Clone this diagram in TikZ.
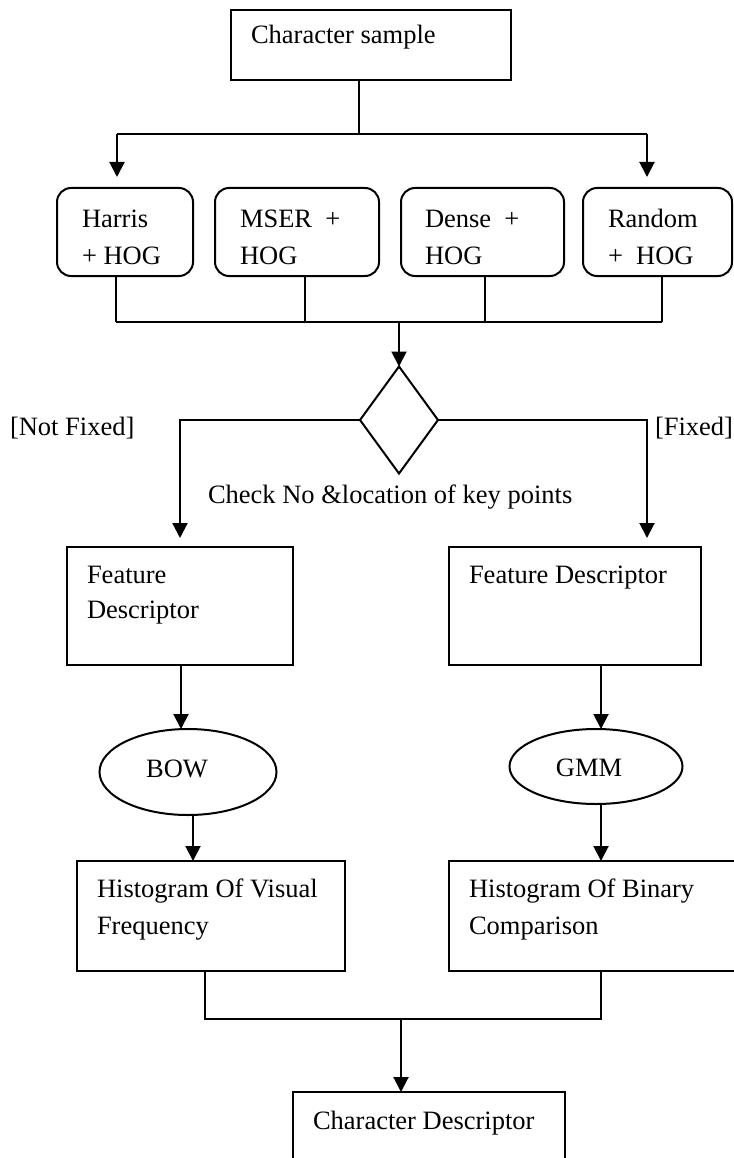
\documentclass[tikz,border=0pt]{standalone}
\usepackage{fontspec}
\setmainfont{Liberation Serif}
\usetikzlibrary{arrows.meta,shapes.geometric}
\begin{document}
\begin{tikzpicture}[x=1pt,y=-1pt,
  every node/.style={inner sep=0pt, outer sep=0pt},
  ln/.style={line width=2pt},
  arr/.style={ln, -{Triangle[width=15pt,length=15pt]}},
  sqbox/.style={draw, ln, rectangle, anchor=north west},
  rbox/.style={draw, ln, rectangle, rounded corners=14pt, anchor=north west},
  lbl/.style={anchor=base west, font=\fontsize{26.5}{30}\selectfont},
  clbl/.style={anchor=base, font=\fontsize{26.5}{30}\selectfont},
]
\useasboundingbox (0,0) rectangle (733,1158);

% top box
\node[sqbox, minimum width=280.5pt, minimum height=70pt] (cs) at (230.5,10) {};
\node[lbl] (cst) at (251,44) {Character sample};

% detector boxes
\node[rbox, minimum width=136pt, minimum height=88pt] (harris) at (57,188) {};
\node[rbox, minimum width=164pt, minimum height=88pt] (mser) at (215,188) {};
\node[rbox, minimum width=163pt, minimum height=88pt] (dense) at (401,188) {};
\node[rbox, minimum width=149pt, minimum height=88pt] (random) at (583,188) {};
\node[lbl] (h1) at (82,228) {Harris};
\node[lbl] (h2) at (82,264) {+ HOG};
\node[lbl] (m1) at (240,228) {MSER\ \ +};
\node[lbl] (m2) at (240,264) {HOG};
\node[lbl] (d1) at (425,228) {Dense\ \ +};
\node[lbl] (d2) at (425,264) {HOG};
\node[lbl] (r1) at (608,228) {Random};
\node[lbl] (r2) at (608,264) {+\ \ HOG};

% top connectors
\coordinate (jt) at (359,134);
\coordinate (jtl) at (117,134);
\coordinate (jtr) at (647,134);
\draw[ln] (cs.south -| jt) -- (jt);
\draw[ln] (jtl) -- (jtr);
\draw[arr, shorten >=11pt] (jtl) -- (jtl |- harris.north);
\draw[arr, shorten >=11pt] (jtr) -- (jtr |- random.north);

% merge below detectors
\coordinate (hb1) at (116,322);
\coordinate (hb2) at (305,322);
\coordinate (hb3) at (485,322);
\coordinate (hb4) at (662,322);
\coordinate (hbm) at (399,322);
\draw[ln] (hb1 |- harris.south) -- (hb1);
\draw[ln] (hb2 |- mser.south) -- (hb2);
\draw[ln] (hb3 |- dense.south) -- (hb3);
\draw[ln] (hb4 |- random.south) -- (hb4);
\draw[ln] (hb1) -- (hb4);

% decision
\node[draw, ln, diamond, minimum width=78pt, minimum height=107pt] (dia) at (399,420) {};
\draw[arr] (hbm) -- (dia.north);
\node[lbl] (nf) at (10,435) {[Not Fixed]};
\node[lbl] (fx) at (655,435) {[Fixed]};
\node[lbl] (chk) at (208,503) {Check No \&location of key points};

% feature descriptor boxes
\node[sqbox, minimum width=226pt, minimum height=118pt] (fdl) at (67,547) {};
\node[sqbox, minimum width=252pt, minimum height=118pt] (fdr) at (449,547) {};
\node[lbl] (fdl1) at (87,583) {Feature};
\node[lbl] (fdl2) at (87,618) {Descriptor};
\node[lbl] (fdr1) at (469,583) {Feature Descriptor};

\coordinate (dl) at (180,420);
\coordinate (dr) at (647,420);
\draw[arr, shorten >=9pt] (dia.west) -- (dl) -- (dl |- fdl.north);
\draw[arr, shorten >=9pt] (dia.east) -- (dr) -- (dr |- fdr.north);

% ellipses
\node[draw, ln, ellipse, minimum width=177pt, minimum height=86pt] (bow) at (188,772) {};
\node[draw, ln, ellipse, minimum width=173pt, minimum height=75pt] (gmm) at (596,766.5) {};
\node[clbl] (bowt) at (177,777) {BOW};
\node[clbl] (gmmt) at (589,776) {GMM};

% histogram boxes
\node[sqbox, minimum width=268pt, minimum height=110pt] (hv) at (77,861) {};
\node[sqbox, minimum width=300pt, minimum height=110pt] (hbin) at (449,861) {};
\node[lbl] (hv1) at (97,897) {Histogram Of Visual};
\node[lbl] (hv2) at (97,934) {Frequency};
\node[lbl] (hb1t) at (469,897) {Histogram Of Binary};
\node[lbl] (hb2t) at (469,934) {Comparison};

\coordinate (cl) at (181,700);
\coordinate (cl2) at (193,700);
\coordinate (cr) at (601,700);
\draw[arr] (cl |- fdl.south) -- (cl |- bow.north);
\draw[arr] (cl2 |- bow.south) -- (cl2 |- hv.north);
\draw[arr] (cr |- fdr.south) -- (cr |- gmm.north);
\draw[arr] (cr |- gmm.south) -- (cr |- hbin.north);

% final merge
\node[sqbox, minimum width=272pt, minimum height=100pt] (cd) at (293,1092) {};
\node[lbl] (cdt) at (313,1129) {Character Descriptor};
\coordinate (bl) at (205,1019);
\coordinate (br) at (601,1019);
\coordinate (bm) at (401,1019);
\draw[ln] (bl |- hv.south) -- (bl) -- (br) -- (br |- hbin.south);
\draw[arr] (bm) -- (bm |- cd.north);
\end{tikzpicture}
\end{document}
